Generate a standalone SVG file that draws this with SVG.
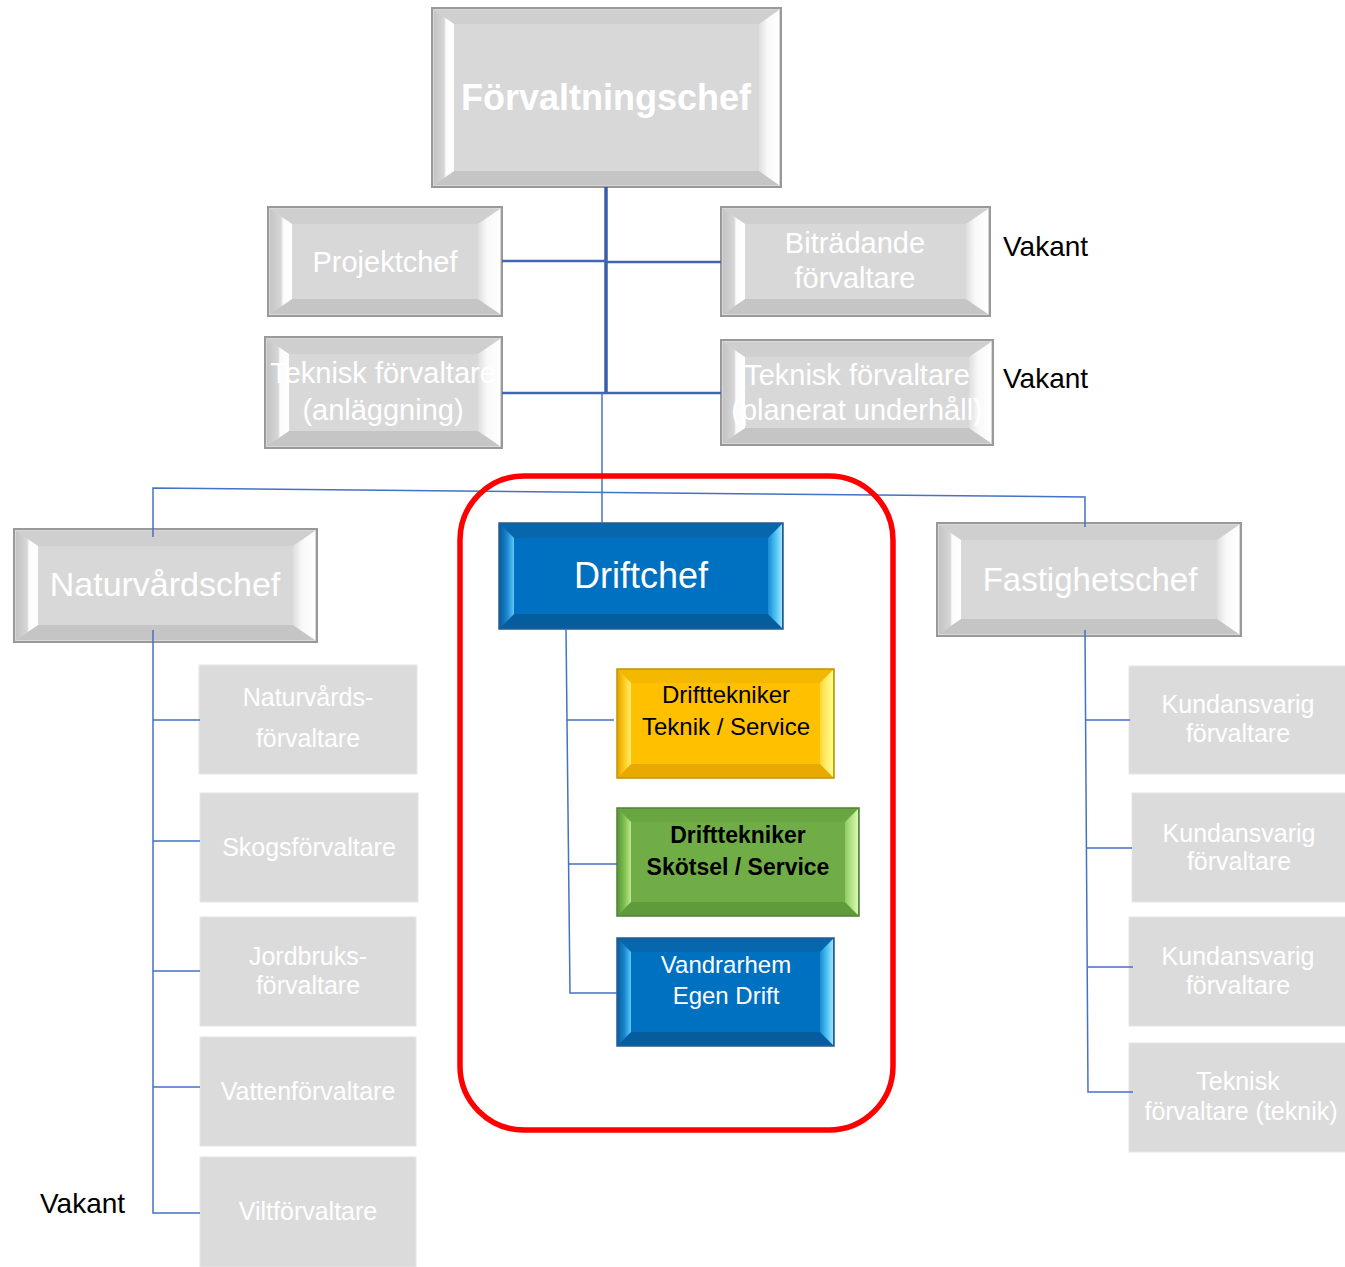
<svg xmlns="http://www.w3.org/2000/svg" width="1345" height="1267" viewBox="0 0 1345 1267">
<defs>
<linearGradient id="gL" x1="0" y1="0" x2="1" y2="0"><stop offset="0" stop-color="#c4c4c4"/><stop offset="0.5" stop-color="#d6d6d6"/><stop offset="0.6" stop-color="#fbfbfb"/><stop offset="1" stop-color="#ffffff"/></linearGradient>
<linearGradient id="gR" x1="1" y1="0" x2="0" y2="0"><stop offset="0" stop-color="#ffffff"/><stop offset="0.6" stop-color="#f8f8f8"/><stop offset="1" stop-color="#dedede"/></linearGradient>
<linearGradient id="bL" x1="0" y1="0" x2="1" y2="0"><stop offset="0" stop-color="#0a5fa0"/><stop offset="0.5" stop-color="#1a86d0"/><stop offset="1" stop-color="#5cc8f5"/></linearGradient>
<linearGradient id="bR" x1="1" y1="0" x2="0" y2="0"><stop offset="0" stop-color="#9ee4ff"/><stop offset="0.5" stop-color="#47bff0"/><stop offset="1" stop-color="#1a8ad4"/></linearGradient>
<linearGradient id="yL" x1="0" y1="0" x2="1" y2="0"><stop offset="0" stop-color="#e6a800"/><stop offset="0.5" stop-color="#ffcc20"/><stop offset="1" stop-color="#fff070"/></linearGradient>
<linearGradient id="yR" x1="1" y1="0" x2="0" y2="0"><stop offset="0" stop-color="#ffff90"/><stop offset="1" stop-color="#ffd840"/></linearGradient>
<linearGradient id="nL" x1="0" y1="0" x2="1" y2="0"><stop offset="0" stop-color="#5c9a38"/><stop offset="0.5" stop-color="#80c050"/><stop offset="1" stop-color="#c0e890"/></linearGradient>
<linearGradient id="nR" x1="1" y1="0" x2="0" y2="0"><stop offset="0" stop-color="#d8f8b0"/><stop offset="1" stop-color="#90cc60"/></linearGradient>
</defs>
<style>
text{font-family:"Liberation Sans",Arial,sans-serif;text-anchor:middle}
.gface{fill:#d9d8d9;stroke:#999999;stroke-width:2}
.gtop{fill:#d0cfd0}.gbot{fill:#c6c5c6}.gl{fill:url(#gL)}.gr{fill:url(#gR)}
.bface{fill:#0070c0;stroke:#2a5a8a;stroke-width:1.5}
.btop{fill:#0866ad}.bbot{fill:#065d9e}.bl{fill:url(#bL)}.br{fill:url(#bR)}
.yface{fill:#ffc000;stroke:#c09000;stroke-width:1.5}
.ytop{fill:#f5b800}.ybot{fill:#e8aa00}.yl{fill:url(#yL)}.yr{fill:url(#yR)}
.nface{fill:#70ad47;stroke:#4f7f33;stroke-width:1.5}
.ntop{fill:#68a642}.nbot{fill:#5f9a3b}.nl{fill:url(#nL)}.nr{fill:url(#nR)}
.flat{fill:#dcdbdc;stroke:#e6e6e6;stroke-width:1}
.wt{fill:#ffffff}
.fl{fill:#ffffff;font-size:25px}
.fr{fill:#ffffff;font-size:25px}
.vk{fill:#000000;font-size:28px;text-anchor:start}
.c1{fill:none;stroke:#3b5ea9;stroke-width:3.5}
.c2{fill:none;stroke:#4066b4;stroke-width:2.5}
.c3{fill:none;stroke:#4472c4;stroke-width:1.5}
</style>
<rect width="1345" height="1267" fill="#ffffff"/>

<g id="n-forvaltningschef">
<rect class="gface" x="432" y="8" width="349" height="179"/>
<polygon class="gtop" points="434,10 779,10 759,24 454,24"/>
<polygon class="gbot" points="454,171 759,171 779,185 434,185"/>
<polygon class="gl" points="434,10 454,24 454,171 434,185"/>
<polygon class="gr" points="779,10 779,185 759,171 759,24"/>
<text class="wt" x="606" y="110" font-size="36" font-weight="bold">Förvaltningschef</text>
</g>

<g id="n-projektchef">
<rect class="gface" x="268" y="207" width="234" height="109"/>
<polygon class="gtop" points="270,209 500,209 478,224 292,224"/>
<polygon class="gbot" points="292,299 478,299 500,314 270,314"/>
<polygon class="gl" points="270,209 292,224 292,299 270,314"/>
<polygon class="gr" points="500,209 500,314 478,299 478,224"/>
<text class="wt" x="385" y="272" font-size="29">Projektchef</text>
</g>

<g id="n-teknisk-anlaggning">
<rect class="gface" x="265" y="337" width="237" height="111"/>
<polygon class="gtop" points="267,339 500,339 478,354 289,354"/>
<polygon class="gbot" points="289,431 478,431 500,446 267,446"/>
<polygon class="gl" points="267,339 289,354 289,431 267,446"/>
<polygon class="gr" points="500,339 500,446 478,431 478,354"/>
<text class="wt" x="383" y="383" font-size="29">Teknisk förvaltare</text>
<text class="wt" x="383" y="420" font-size="29">(anläggning)</text>
</g>

<g id="n-bitradande">
<rect class="gface" x="721" y="207" width="269" height="109"/>
<polygon class="gtop" points="723,209 988,209 966,224 745,224"/>
<polygon class="gbot" points="745,299 966,299 988,314 723,314"/>
<polygon class="gl" points="723,209 745,224 745,299 723,314"/>
<polygon class="gr" points="988,209 988,314 966,299 966,224"/>
<text class="wt" x="855" y="253" font-size="29">Biträdande</text>
<text class="wt" x="855" y="288" font-size="29">förvaltare</text>
</g>

<g id="n-teknisk-planerat">
<rect class="gface" x="721" y="340" width="272" height="105"/>
<polygon class="gtop" points="723,342 991,342 969,357 745,357"/>
<polygon class="gbot" points="745,428 969,428 991,443 723,443"/>
<polygon class="gl" points="723,342 745,357 745,428 723,443"/>
<polygon class="gr" points="991,342 991,443 969,428 969,357"/>
<text class="wt" x="857" y="385" font-size="29">Teknisk förvaltare</text>
<text class="wt" x="857" y="420" font-size="29">(planerat underhåll)</text>
</g>

<g id="n-naturvardschef">
<rect class="gface" x="14" y="529" width="303" height="113"/>
<polygon class="gtop" points="16,531 315,531 293,546 38,546"/>
<polygon class="gbot" points="38,625 293,625 315,640 16,640"/>
<polygon class="gl" points="16,531 38,546 38,625 16,640"/>
<polygon class="gr" points="315,531 315,640 293,625 293,546"/>
<text class="wt" x="165" y="596" font-size="34">Naturvårdschef</text>
</g>

<g id="n-fastighetschef">
<rect class="gface" x="937" y="523" width="304" height="113"/>
<polygon class="gtop" points="939,525 1239,525 1217,540 961,540"/>
<polygon class="gbot" points="961,619 1217,619 1239,634 939,634"/>
<polygon class="gl" points="939,525 961,540 961,619 939,634"/>
<polygon class="gr" points="1239,525 1239,634 1217,619 1217,540"/>
<text class="wt" x="1090" y="591" font-size="33">Fastighetschef</text>
</g>

<g id="n-driftchef">
<rect class="bface" x="499" y="523" width="284" height="106"/>
<polygon class="btop" points="500,524 782,524 768,538 514,538"/>
<polygon class="bbot" points="514,614 768,614 782,628 500,628"/>
<polygon class="bl" points="500,524 514,538 514,614 500,628"/>
<polygon class="br" points="782,524 782,628 768,614 768,538"/>
<text class="wt" x="641" y="588" font-size="36">Driftchef</text>
</g>

<g id="n-drifttekniker-teknik">
<rect class="yface" x="617" y="669" width="217" height="109"/>
<polygon class="ytop" points="618,670 833,670 820,683 631,683"/>
<polygon class="ybot" points="631,764 820,764 833,777 618,777"/>
<polygon class="yl" points="618,670 631,683 631,764 618,777"/>
<polygon class="yr" points="833,670 833,777 820,764 820,683"/>
<text x="726" y="703" font-size="24" fill="#000000">Drifttekniker</text>
<text x="726" y="735" font-size="24" fill="#000000">Teknik / Service</text>
</g>

<g id="n-drifttekniker-skotsel">
<rect class="nface" x="617" y="808" width="242" height="108"/>
<polygon class="ntop" points="618,809 858,809 845,822 631,822"/>
<polygon class="nbot" points="631,902 845,902 858,915 618,915"/>
<polygon class="nl" points="618,809 631,822 631,902 618,915"/>
<polygon class="nr" points="858,809 858,915 845,902 845,822"/>
<text x="738" y="843" font-size="23" font-weight="bold" fill="#000000">Drifttekniker</text>
<text x="738" y="875" font-size="23" font-weight="bold" fill="#000000">Skötsel / Service</text>
</g>

<g id="n-vandrarhem">
<rect class="bface" x="617" y="938" width="217" height="108"/>
<polygon class="btop" points="618,939 833,939 820,952 631,952"/>
<polygon class="bbot" points="631,1032 820,1032 833,1045 618,1045"/>
<polygon class="bl" points="618,939 631,952 631,1032 618,1045"/>
<polygon class="br" points="833,939 833,1045 820,1032 820,952"/>
<text class="wt" x="726" y="973" font-size="24">Vandrarhem</text>
<text class="wt" x="726" y="1004" font-size="24">Egen Drift</text>
</g>

<g id="n-naturvardsforvaltare">
<rect class="flat" x="199" y="665" width="218" height="109"/>
<text class="fl" x="308" y="706">Naturvårds-</text>
<text class="fl" x="308" y="747">förvaltare</text>
</g>
<g id="n-skogsforvaltare">
<rect class="flat" x="200" y="793" width="218" height="109"/>
<text class="fl" x="309" y="856">Skogsförvaltare</text>
</g>
<g id="n-jordbruksforvaltare">
<rect class="flat" x="200" y="917" width="216" height="109"/>
<text class="fl" x="308" y="965">Jordbruks-</text>
<text class="fl" x="308" y="994">förvaltare</text>
</g>
<g id="n-vattenforvaltare">
<rect class="flat" x="200" y="1037" width="216" height="109"/>
<text class="fl" x="308" y="1100">Vattenförvaltare</text>
</g>
<g id="n-viltforvaltare">
<rect class="flat" x="200" y="1157" width="216" height="110"/>
<text class="fl" x="308" y="1220">Viltförvaltare</text>
</g>

<g id="n-kundansvarig-1">
<rect class="flat" x="1129" y="666" width="218" height="108"/>
<text class="fr" x="1238" y="713">Kundansvarig</text>
<text class="fr" x="1238" y="742">förvaltare</text>
</g>
<g id="n-kundansvarig-2">
<rect class="flat" x="1132" y="793" width="215" height="109"/>
<text class="fr" x="1239" y="842">Kundansvarig</text>
<text class="fr" x="1239" y="870">förvaltare</text>
</g>
<g id="n-kundansvarig-3">
<rect class="flat" x="1129" y="917" width="218" height="109"/>
<text class="fr" x="1238" y="965">Kundansvarig</text>
<text class="fr" x="1238" y="994">förvaltare</text>
</g>
<g id="n-teknisk-teknik">
<rect class="flat" x="1129" y="1043" width="218" height="109"/>
<text class="fr" x="1238" y="1090">Teknisk</text>
<text class="fr" x="1241" y="1120">förvaltare (teknik)</text>
</g>

<g id="labels">
<text class="vk" x="1003" y="256">Vakant</text>
<text class="vk" x="1003" y="388">Vakant</text>
<text class="vk" x="40" y="1213">Vakant</text>
</g>

<g id="connectors">
<path class="c1" d="M606,187 V393"/>
<path class="c2" d="M502,261 H606 M606,262 H721 M502,393 H721"/>
<path class="c3" d="M602,393 V523"/>
<path class="c3" d="M153,537 V488 L1085,497 V527"/>
<path class="c3" d="M153,630 V1213 H200 M153,720 H200 M153,841 H200 M153,971 H200 M153,1087 H200"/>
<path class="c3" d="M566,629 L570,993 H617 M567,720 H614 M569,864 H617"/>
<path class="c3" d="M1085,630 L1088,1092 H1133 M1086,720 H1130 M1087,848 H1132 M1088,967 H1133"/>
</g>

<rect id="highlight" x="460" y="476" width="433" height="654" rx="64" ry="64" fill="none" stroke="#ff0000" stroke-width="5.5"/>
</svg>
